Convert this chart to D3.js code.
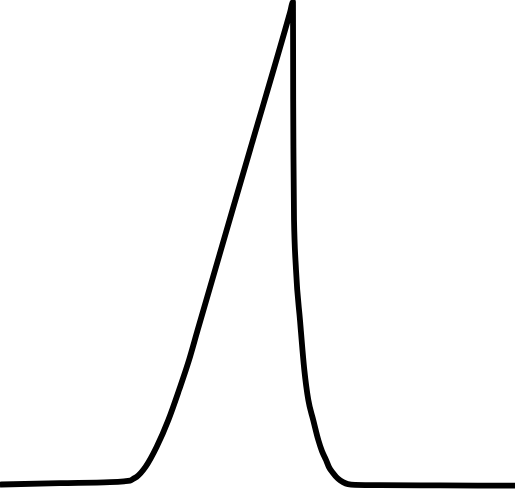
<!DOCTYPE html>
<html>
<head>
<meta charset="utf-8">
<script src="https://cdn.jsdelivr.net/npm/d3@7"></script>
<style>
  html, body { margin: 0; padding: 0; background: #fff; }
  svg { display: block; }
</style>
</head>
<body>
<svg id="chart" width="515" height="491"></svg>
<script>
// time (arbitrary units, 0-100) and normalised signal (0-1)
var times = [0, 11.65, 21.36, 24.08, 25.24, 25.83, 26.54, 28.29, 30.43, 32.68,
  34.76, 36.70, 38.37, 48.54, 56.31, 56.89,
  56.93, 56.99, 57.09, 57.48, 58.25, 59.09, 59.86, 60.83, 61.81, 62.52,
  63.30, 63.88, 64.66, 65.63, 66.60, 67.57, 68.93, 73.79, 85.44, 100];
var signal = [0.003, 0.006, 0.008, 0.0097, 0.011, 0.0145, 0.019, 0.040, 0.081, 0.136,
  0.198, 0.260, 0.322, 0.694, 0.978, 1.000,
  0.798, 0.674, 0.550, 0.446, 0.343, 0.240, 0.178, 0.136, 0.095, 0.072,
  0.054, 0.039, 0.027, 0.015, 0.008, 0.004, 0.0025, 0.0017, 0.0012, 0.0006];

var main = function() {
    var svg = d3.select('#chart');
    var width = 515, height = 491;

    var x = d3.scaleLinear().domain([0, 100]).range([0, width]);
    var y = d3.scaleLinear().domain([0, 1]).range([486, 2]);

    var data = times.map(function(t, i) { return [t, signal[i]]; });

    var line = d3.line()
        .x(function(d) { return x(d[0]); })
        .y(function(d) { return y(d[1]); })
        .curve(d3.curveMonotoneX);

    svg.append('path')
        .datum(data)
        .attr('d', line)
        .attr('fill', 'none')
        .attr('stroke', '#000')
        .attr('stroke-width', 5.8)
        .attr('stroke-linejoin', 'round')
        .attr('stroke-linecap', 'butt');
}
main()
</script>
</body>
</html>
